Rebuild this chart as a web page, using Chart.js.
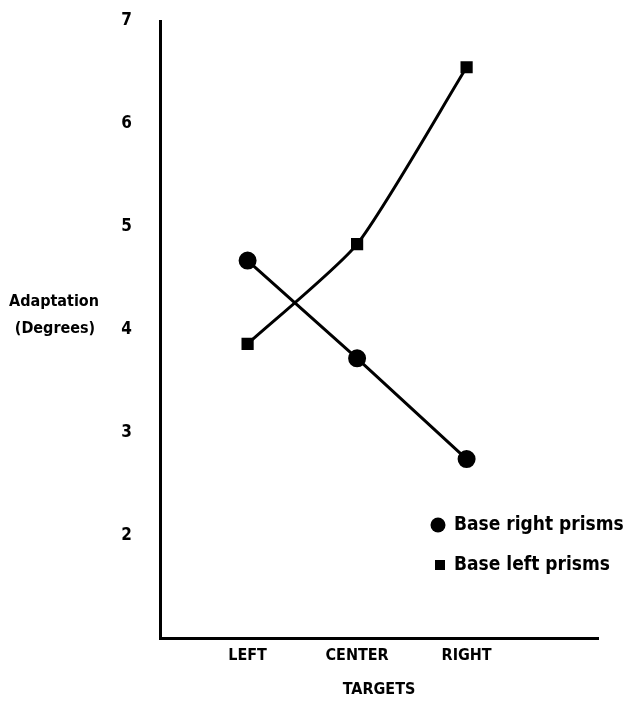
<!DOCTYPE html>
<html>
<head>
<meta charset="utf-8">
<script src="https://cdn.jsdelivr.net/npm/chart.js@4"></script>
<style>
  body { margin: 0; background: #fff; }
  #wrap { width: 628px; height: 702px; }
</style>
</head>
<body>
<div id="wrap"><canvas id="grafico" width="628" height="702"></canvas></div>
<script>
// ====== Datos ======
const categorias = ['LEFT', 'CENTER', 'RIGHT'];
const baseRight = [4.67, 3.72, 2.74];
const baseLeft = [3.86, 4.83, 6.55];
const yTicks = [2, 3, 4, 5, 6, 7];
const tituloY = ['Adaptation', '(Degrees)'];

const fuente = '"DejaVu Sans Condensed", "DejaVu Sans", sans-serif';

// texto del eje Y (horizontal) y leyenda
const extras = {
  id: 'extras',
  afterDraw(chart) {
    const c = chart.ctx;
    c.save();
    c.fillStyle = '#000';
    c.font = 'bold 16px ' + fuente;
    c.textAlign = 'center';
    c.textBaseline = 'middle';
    c.fillText(tituloY[0], 54, 302);
    c.fillText(tituloY[1], 55, 329);

    c.font = 'bold 19px ' + fuente;
    c.textAlign = 'left';
    chart.data.datasets.forEach((ds, i) => {
      const y = 525 + i * 40;
      c.beginPath();
      if (ds.pointStyle === 'rect') {
        c.rect(435, y - 5, 10, 10);
      } else {
        c.arc(438, y, 7.5, 0, Math.PI * 2);
      }
      c.fill();
      c.fillText(ds.label, 454, y);
    });
    c.restore();
  }
};

new Chart(document.getElementById('grafico'), {
  type: 'line',
  data: {
    datasets: [{
      label: 'Base right prisms',
      data: baseRight.map((v, i) => ({ x: i + 1, y: v })),
      borderColor: '#000',
      backgroundColor: '#000',
      borderWidth: 3,
      pointStyle: 'circle',
      pointRadius: 7.5,
      tension: 0
    }, {
      label: 'Base left prisms',
      data: baseLeft.map((v, i) => ({ x: i + 1, y: v })),
      borderColor: '#000',
      backgroundColor: '#000',
      borderWidth: 3,
      pointStyle: 'rect',
      pointRadius: 6.5,
      tension: 0.2
    }]
  },
  options: {
    responsive: false,
    animation: false,
    layout: { padding: { top: 21, right: 30, left: 0, bottom: 0 } },
    plugins: { legend: { display: false }, tooltip: { enabled: false } },
    scales: {
      x: {
        type: 'linear',
        min: 0.2,
        max: 4.2,
        afterBuildTicks: s => { s.ticks = categorias.map((c, i) => ({ value: i + 1 })); },
        afterFit: s => { s.height = 64; },
        grid: { display: false, drawTicks: false },
        border: { display: true, color: '#000', width: 3 },
        ticks: {
          color: '#000',
          padding: 8,
          font: { family: fuente, size: 16, weight: 'bold' },
          callback: v => categorias[v - 1]
        },
        title: {
          display: true,
          text: 'TARGETS',
          color: '#000',
          padding: { top: 0, bottom: 3 },
          font: { family: fuente, size: 16, weight: 'bold' }
        }
      },
      y: {
        min: 1,
        max: 7,
        afterBuildTicks: s => { s.ticks = yTicks.map(v => ({ value: v })); },
        afterFit: s => { s.width = 160; s.paddingTop = 0; s.paddingBottom = 0; },
        grid: { display: false, drawTicks: false },
        border: { display: true, color: '#000', width: 3 },
        ticks: {
          color: '#000',
          padding: 28,
          font: { family: fuente, size: 17, weight: 'bold' }
        }
      }
    }
  },
  plugins: [extras]
});
</script>
</body>
</html>
